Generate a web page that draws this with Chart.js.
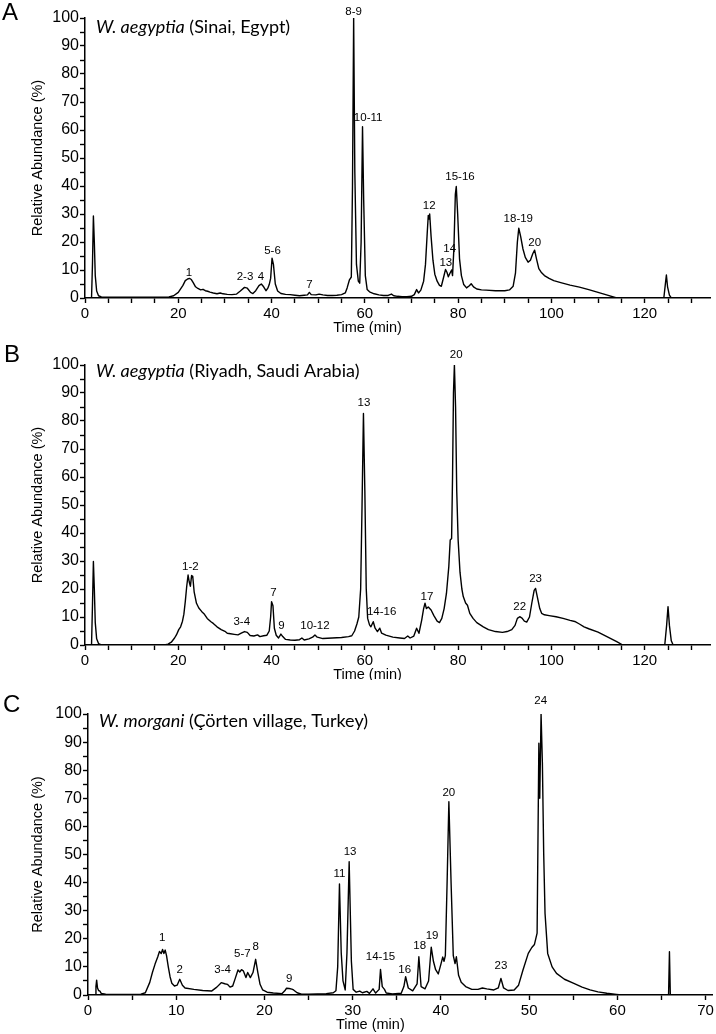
<!DOCTYPE html>
<html>
<head>
<meta charset="utf-8">
<script src="https://cdn.jsdelivr.net/npm/chart.js@4"></script>
<style>
  html, body { margin: 0; padding: 0; background: #fff; }
  body { width: 716px; height: 1034px; position: relative; overflow: hidden; }
  canvas { position: absolute; left: 0; }
</style>
</head>
<body>
<canvas id="chartA" width="716" height="340" style="top:0px"></canvas>
<canvas id="chartB" width="716" height="340" style="top:340px"></canvas>
<canvas id="chartC" width="716" height="354" style="top:680px"></canvas>
<script>
// ---- Panel A: W. aegyptia (Sinai, Egypt) ----
const aTime = [0, 1.4, 1.6, 1.8, 2.0, 2.2, 2.5, 2.9, 3.5, 6, 10, 15, 18, 19, 20, 21, 21.5, 22, 22.4, 22.8, 23.2, 23.7, 24.2, 24.8, 25.3, 25.8, 26.3, 26.8, 27.5, 28.3, 29, 29.6, 30.5, 31.5, 32.5, 33.3, 34.2, 34.8, 35.5, 36.0, 36.6, 37.3, 37.8, 38.3, 38.8, 39.2, 39.5, 39.8, 40.1, 40.4, 40.8, 41.3, 42, 43, 44, 45, 46, 47, 47.7, 48.1, 48.5, 49.5, 50.2, 51, 52, 53, 54, 55, 55.8, 56.2, 56.7, 57.1, 57.35, 57.6, 57.85, 58.2, 58.6, 58.9, 59.2, 59.5, 59.75, 60.1, 60.5, 61, 62, 63, 64, 65, 65.7, 66.2, 67, 68, 69, 70, 70.6, 71.1, 71.5, 72, 72.6, 73.0, 73.4, 73.6, 73.75, 73.9, 74.2, 74.6, 75.0, 75.5, 76, 76.4, 76.9, 77.3, 77.6, 77.9, 78.3, 78.6, 78.8, 79.1, 79.4, 79.6, 79.9, 80.3, 80.7, 81.2, 81.8, 82.4, 82.8, 83.3, 84, 85, 86, 88, 90, 91, 91.8, 92.3, 92.7, 93.0, 93.4, 93.9, 94.4, 95.0, 95.5, 96.0, 96.4, 96.8, 97.3, 97.8, 98.5, 99.5, 100.5, 102, 104, 106, 108, 110, 112, 114, 124.1, 124.5, 124.65, 124.9, 125.3, 125.7, 134];
const aAbund = [0, 0, 12, 29.3, 20, 8, 2.5, 0.8, 0.4, 0.3, 0.3, 0.3, 0.4, 0.8, 2, 4.5, 6.2, 6.8, 7.0, 6.6, 5.5, 4.0, 3.4, 2.9, 3.1, 2.6, 2.4, 2.1, 1.8, 1.5, 1.8, 1.5, 1.3, 1.2, 1.4, 2.5, 3.8, 3.5, 2.0, 1.6, 2.6, 4.4, 5.0, 4.0, 2.6, 3.5, 4.8, 7, 14.2, 12, 5, 2.5, 1.6, 1.3, 1.2, 1.0, 0.8, 1.0, 1.1, 2.0, 1.2, 1.1, 1.4, 1.1, 0.9, 0.9, 1.0, 1.2, 1.8, 3.6, 6.5, 7.5, 40, 100, 45, 12, 6, 5.3, 20, 61.2, 35, 8, 3.0, 2.2, 1.5, 1.1, 0.9, 0.9, 1.4, 0.8, 0.6, 0.5, 0.5, 0.6, 1.2, 3.0, 1.8, 2.8, 6, 12, 24, 29.5, 28.2, 30.0, 22, 13.5, 8.5, 6.0, 4.5, 4.2, 7.5, 10.2, 9.2, 7.6, 9.0, 10.0, 8, 18, 37, 39.8, 30, 14, 8.0, 4.8, 3.6, 4.4, 5.1, 4.0, 3.2, 2.9, 2.8, 2.6, 2.6, 2.9, 4.2, 9, 20, 24.9, 22, 17.5, 14.5, 12.8, 13.5, 15.8, 17.1, 14, 10.5, 9.2, 8.0, 7.0, 6.2, 5.5, 4.6, 3.9, 3.0, 2.0, 1.0, 0, 0, 6, 8.2, 4, 1, 0, 0];
const aPeakText = ['1', '2-3', '4', '5-6', '7', '8-9', '10-11', '12', '13', '14', '15-16', '18-19', '20'];
const aPeakTime = [22.3, 34.3, 37.7, 40.2, 48.1, 57.6, 60.7, 73.8, 77.35, 78.2, 80.4, 92.9, 96.4];
const aPeakAt = [9.0, 7.6, 7.6, 16.9, 4.6, 102.3, 64.2, 32.9, 12.7, 17.7, 43.3, 28.1, 19.8];

// ---- Panel B: W. aegyptia (Riyadh, Saudi Arabia) ----
const bTime = [0, 1.4, 1.6, 1.8, 2.0, 2.2, 2.5, 2.9, 3.5, 17, 17.8, 18.5, 19.2, 19.6, 20.1, 20.5, 20.9, 21.2, 21.5, 21.8, 22.1, 22.35, 22.6, 22.85, 23.1, 23.4, 23.9, 24.4, 25.0, 25.5, 26.2, 27.0, 27.5, 28.3, 29.2, 30.0, 30.5, 31.2, 32.0, 32.8, 33.5, 34.2, 34.8, 35.4, 36.2, 37, 37.5, 38.3, 39.0, 39.5, 39.8, 40.0, 40.3, 40.6, 41.0, 41.5, 42.0, 42.4, 43, 44, 45, 46, 46.5, 47, 48, 48.8, 49.3, 49.8, 51, 53, 55, 56.5, 57.2, 57.8, 58.3, 58.7, 59.1, 59.4, 59.7, 60.0, 60.3, 60.6, 61.0, 61.3, 61.8, 62.2, 62.7, 63.2, 63.6, 64.5, 66, 67.5, 68.5, 69.2, 69.7, 70.5, 71.1, 71.6, 72.2, 72.6, 72.9, 73.2, 73.6, 74.2, 74.8, 75.5, 76.0, 76.5, 77.0, 77.5, 78.0, 78.3, 78.6, 78.8, 79.0, 79.2, 79.45, 79.7, 80.0, 80.4, 80.8, 81.1, 81.6, 82.0, 82.5, 83.2, 84, 85.4, 86.5, 88, 89.5, 90.5, 91.5, 92.2, 92.7, 93.2, 93.7, 94.2, 94.7, 95.3, 95.8, 96.3, 96.6, 97.0, 97.5, 97.9, 98.5, 99.5, 101, 102.5, 104, 105, 106, 107, 108, 110, 112, 114, 115.3, 124.3, 124.7, 125.0, 125.3, 125.7, 126.1, 134];
const bAbund = [0, 0, 14, 29.8, 20, 8, 2.2, 0.5, 0, 0, 0.3, 1, 2.5, 3.6, 5.5, 6.5, 8.5, 11, 15.5, 20.8, 25, 22.5, 21, 24.8, 24.5, 19, 14.9, 13.2, 12.0, 11.2, 9.5, 8.3, 7.7, 6.5, 5.5, 4.9, 4.2, 4.0, 3.8, 3.6, 4.2, 4.8, 4.5, 3.4, 3.2, 3.6, 3.0, 3.3, 3.5, 5, 10, 15.5, 14, 6, 3.5, 2.5, 3.9, 3.0, 2.0, 1.8, 1.7, 1.9, 2.5, 1.8, 2.2, 2.8, 3.6, 2.8, 2.3, 2.5, 2.7, 3.0, 3.3, 5, 7.5, 10, 20, 50, 82.7, 55, 20, 9.5, 7.2, 6.5, 8.3, 6, 4.8, 6.0, 4.2, 3.5, 2.8, 2.5, 2.3, 3.2, 2.5, 3.2, 6.0, 4.2, 9, 13, 14.9, 13, 13.6, 12.5, 10.5, 8.5, 8.0, 9.5, 13, 18.5, 28, 37.5, 38, 60, 90, 100, 85, 55, 37.5, 26, 20, 17.3, 15, 14.2, 11.3, 9.5, 8, 6.5, 5.5, 4.8, 4.5, 4.8, 5.5, 7, 9.5, 10.1, 9.6, 8.5, 8.2, 10, 15, 19.5, 20.2, 17, 13, 11.3, 10.8, 10.5, 10.1, 9.5, 8.8, 8.4, 7.5, 6.5, 5.8, 4.6, 2.9, 1.2, 0, 0, 7, 13.7, 7, 1.5, 0, 0];
const bPeakText = ['1-2', '3-4', '7', '9', '10-12', '13', '14-16', '17', '20', '22', '23'];
const bPeakTime = [22.6, 33.6, 40.4, 42.1, 49.3, 59.8, 63.6, 73.3, 79.6, 93.2, 96.6];
const bPeakAt = [28, 8.3, 18.5, 6.8, 6.8, 86.5, 11.9, 17.3, 103.6, 13.7, 23.8];

// ---- Panel C: W. morgani (Çörten village, Turkey) ----
const cTime = [0, 0.8, 0.9, 0.98, 1.08, 1.2, 1.35, 1.5, 2, 4, 6, 6.5, 7.0, 7.3, 7.6, 7.9, 8.1, 8.3, 8.45, 8.6, 8.75, 8.9, 9.1, 9.3, 9.5, 9.8, 10.1, 10.4, 10.7, 11, 12, 13, 14, 14.6, 15.1, 15.5, 15.8, 16.1, 16.4, 16.7, 17.0, 17.2, 17.4, 17.6, 17.9, 18.1, 18.4, 18.7, 19.0, 19.25, 19.5, 19.8, 20.3, 21, 22, 22.3, 22.5, 22.8, 23.1, 23.3, 23.7, 24.2, 25, 26, 27, 27.8, 28.1, 28.3, 28.5, 28.7, 28.9, 29.15, 29.35, 29.6, 29.85, 30.05, 30.4, 30.8, 31.1, 31.6, 31.9, 32.3, 32.6, 33.0, 33.15, 33.35, 33.6, 33.8, 34.5, 35.5, 35.8, 36.0, 36.3, 36.8, 37.3, 37.5, 37.75, 38.2, 38.6, 38.9, 39.15, 39.4, 39.7, 40.0, 40.2, 40.35, 40.5, 40.7, 40.9, 41.15, 41.4, 41.6, 41.75, 42.0, 42.3, 42.8, 43.5, 44.2, 44.7, 45.2, 46, 46.5, 46.8, 47.1, 47.6, 48.3, 48.8, 49.3, 49.9, 50.3, 50.6, 50.9, 51.1, 51.2, 51.35, 51.5, 51.65, 51.8, 52.1, 52.6, 53.1, 54, 55, 56, 56.9, 57.8, 58.8, 59.9, 60.5, 65.8, 65.9, 66.0, 70.8];
const cAbund = [0, 0, 3, 5.3, 2.5, 1.6, 1.4, 0.6, 0.3, 0.2, 0.3, 0.8, 4.5, 8, 11, 13.5, 15.5, 14.8, 16.2, 14.8, 16, 14, 10, 6.5, 4.2, 3.2, 3.5, 5.6, 3.5, 2.5, 2.0, 1.6, 1.4, 2.8, 4.4, 4.0, 3.8, 2.8, 3.2, 6, 8.9, 8.2, 9, 8.6, 6.2, 8.0, 6.2, 8, 12.7, 8, 3.8, 1.8, 1.0, 0.7, 0.5, 1.5, 2.4, 2.3, 2.1, 1.8, 0.8, 0.3, 0.3, 0.4, 0.5, 0.8, 1.5, 10, 39.5, 15, 5, 1.8, 15, 47.4, 12, 2, 1.0, 1.4, 0.8, 1.3, 0.6, 2.2, 0.7, 2, 9.1, 3, 2, 0.7, 0.4, 0.6, 3, 6.5, 2.5, 1.5, 4, 13.6, 3, 2.2, 5, 17, 12, 9, 7.5, 11, 13.5, 12, 14, 40, 68.8, 40, 14, 11.2, 13.6, 7, 4.5, 3, 2.0, 2.0, 2.5, 2.2, 1.8, 2.5, 5.9, 2.5, 1.6, 1.8, 3.5, 8.9, 14.8, 16.9, 18, 22, 89.6, 70, 100, 82.5, 50, 29, 14.8, 10, 7.7, 5.6, 4.2, 2.8, 1.8, 1.1, 0.6, 0.2, 0, 0, 15.4, 0, 0];
const cPeakText = ['1', '2', '3-4', '5-7', '8', '9', '11', '13', '14-15', '16', '18', '19', '20', '23', '24'];
const cPeakTime = [8.4, 10.4, 15.25, 17.5, 19.0, 22.8, 28.5, 29.7, 33.15, 35.9, 37.6, 39.0, 40.9, 46.8, 51.3];
const cPeakAt = [20.5, 9.1, 8.9, 14.5, 17, 5.6, 43, 51, 13.6, 8.9, 17.4, 21, 71.8, 10.3, 104.7];

const AXIS_FONT = '"Liberation Sans", Arial, Helvetica, sans-serif';

// Peak numbers, panel letter, species heading and x title
const annotate = {
    id: 'annotate',
    afterDatasetsDraw: function (chart, args, o) {
        const ctx = chart.ctx;
        const area = chart.chartArea;
        const x = chart.scales.x;
        const y = chart.scales.y;
        ctx.save();
        ctx.fillStyle = '#000';

        ctx.font = '11.5px ' + AXIS_FONT;
        ctx.textAlign = 'center';
        ctx.textBaseline = 'middle';
        o.peakText.forEach((txt, i) => {
            ctx.fillText(txt, x.getPixelForValue(o.peakTime[i]), y.getPixelForValue(o.peakAt[i]));
        });

        // x title sits a bit left of the axis centre in the original
        ctx.font = '14.5px ' + AXIS_FONT;
        ctx.fillText('Time (min)', area.left + area.width * 0.452, area.bottom + 30);

        ctx.textAlign = 'left';
        ctx.textBaseline = 'alphabetic';
        ctx.font = '24px ' + AXIS_FONT;
        ctx.fillText(o.letter, o.letterX, o.letterY);

        const hx = area.left + 11;
        ctx.font = 'italic 18px Lato, sans-serif';
        ctx.fillText(o.species, hx, o.headY);
        const w = ctx.measureText(o.species).width;
        ctx.font = '18px Lato, sans-serif';
        ctx.fillText(o.place, hx + w, o.headY);
        ctx.restore();
    }
};

const panels = [
    { id: 'chartA', letter: 'A', species: 'W. aegyptia', place: ' (Sinai, Egypt)',
      time: aTime, abund: aAbund, peakText: aPeakText, peakTime: aPeakTime, peakAt: aPeakAt,
      xMax: 134, xLabelEvery: 20,
      box: { top: 18, right: 6, yWidth: 85, xHeight: 42, letterX: 2, letterY: 20, headY: 33 } },
    { id: 'chartB', letter: 'B', species: 'W. aegyptia', place: ' (Riyadh, Saudi Arabia)',
      time: bTime, abund: bAbund, peakText: bPeakText, peakTime: bPeakTime, peakAt: bPeakAt,
      xMax: 134, xLabelEvery: 20,
      box: { top: 25, right: 6, yWidth: 85, xHeight: 35, letterX: 4, letterY: 22, headY: 37 } },
    { id: 'chartC', letter: 'C', species: 'W. morgani', place: ' (Çörten village, Turkey)',
      time: cTime, abund: cAbund, peakText: cPeakText, peakTime: cPeakTime, peakAt: cPeakAt,
      xMax: 70.8, xLabelEvery: 10,
      box: { top: 34, right: 3, yWidth: 88, xHeight: 39, letterX: 3, letterY: 32, headY: 47 } }
];

function makeChart(p) {
    const every = (v, n) => Math.abs(v / n - Math.round(v / n)) < 1e-6;
    new Chart(document.getElementById(p.id), {
        type: 'line',
        data: {
            datasets: [{
                data: p.time.map((t, i) => ({ x: t, y: p.abund[i] })),
                borderColor: '#000',
                borderWidth: 1.4,
                borderJoinStyle: 'round',
                pointRadius: 0,
                tension: 0,
                fill: false
            }]
        },
        options: {
            responsive: false,
            animation: false,
            events: [],
            layout: { padding: { top: p.box.top, right: p.box.right, left: 0, bottom: 0 } },
            plugins: {
                legend: { display: false },
                tooltip: { enabled: false },
                annotate: {
                    peakText: p.peakText, peakTime: p.peakTime, peakAt: p.peakAt,
                    letter: p.letter, letterX: p.box.letterX, letterY: p.box.letterY,
                    species: p.species, place: p.place, headY: p.box.headY
                }
            },
            scales: {
                x: {
                    type: 'linear',
                    min: 0,
                    max: p.xMax,
                    afterFit: s => { s.height = p.box.xHeight; },
                    ticks: {
                        stepSize: 5,
                        autoSkip: false,
                        maxTicksLimit: 100,
                        includeBounds: false,
                        maxRotation: 0,
                        padding: 2,
                        color: '#000',
                        font: { size: 15, family: AXIS_FONT },
                        callback: v => every(v, p.xLabelEvery) ? v : ''
                    },
                    grid: { drawOnChartArea: false, tickLength: 5, color: '#000', tickWidth: 1.4 },
                    border: { color: '#000', width: 1.5 }
                },
                y: {
                    min: 0,
                    max: 100,
                    afterFit: s => { s.width = p.box.yWidth; },
                    ticks: {
                        stepSize: 5,
                        autoSkip: false,
                        maxTicksLimit: 100,
                        padding: 1,
                        color: '#000',
                        font: { size: 16, family: AXIS_FONT },
                        callback: v => every(v, 10) ? v : ''
                    },
                    grid: { drawOnChartArea: false, tickLength: 5, color: '#000', tickWidth: 1.4 },
                    border: { color: '#000', width: 1.5 },
                    title: {
                        display: true,
                        text: 'Relative Abundance (%)',
                        color: '#000',
                        font: { size: 14.5, family: AXIS_FONT },
                        padding: { top: 29, bottom: 0 }
                    }
                }
            }
        },
        plugins: [annotate]
    });
}

panels.forEach(makeChart);
</script>
</body>
</html>
